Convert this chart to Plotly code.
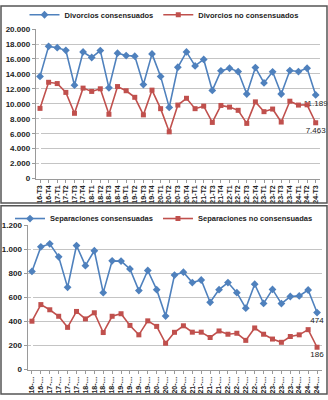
import plotly.graph_objects as go

categories = ["16-T3", "16-T4",
              "17-T1", "17-T2", "17-T3", "17-T4",
              "18-T1", "18-T2", "18-T3", "18-T4",
              "19-T1", "19-T2", "19-T3", "19-T4",
              "20-T1", "20-T2", "20-T3", "20-T4",
              "21-T1", "21-T2", "21-T3", "21-T4",
              "22-T1", "22-T2", "22-T3", "22-T4",
              "23-T1", "23-T2", "23-T3", "23-T4",
              "24-T1", "24-T2", "24-T3"]
short_labels = [c[:3] + "…" for c in categories]

div_cons = [13670, 17690, 17510, 17160, 12490, 16940, 16200, 17120, 12140, 16770,
            16460, 16380, 12580, 16680, 13670, 9520, 14890, 16940, 15070, 15940,
            11790, 14410, 14760, 14320, 11310, 14850, 12800, 14280, 11310, 14450,
            14320, 14760, 11189]
div_nocons = [9390, 12880, 12710, 11530, 8730, 12100, 11660, 12010, 8600, 12310,
              11750, 10870, 8520, 11830, 9350, 6250, 9830, 10740, 9350, 9690,
              7510, 9780, 9560, 9130, 7380, 10260, 8950, 9300, 7560, 10350,
              9830, 9870, 7463]
sep_cons = [815, 1019, 1044, 936, 683, 1030, 863, 987, 639, 903,
            901, 836, 656, 823, 664, 445, 785, 809, 723, 744,
            559, 664, 723, 639, 510, 709, 550, 666, 548, 607,
            612, 661, 474]
sep_nocons = [402, 540, 497, 443, 351, 483, 421, 472, 308, 443,
              464, 367, 289, 405, 359, 219, 310, 364, 311, 311,
              267, 321, 294, 302, 243, 346, 294, 254, 227, 275,
              289, 332, 186]

BLUE = "#4F81BD"
RED = "#C0504D"
W, H = 328, 400
FONT = "Liberation Sans"


def last_label(vals):
    return [""] * (len(vals) - 1) + [f"{vals[-1]:,}".replace(",", ".")]


fig = go.Figure()

def add(vals, name, color, symbol, xa, ya, legend, msize):
    fig.add_trace(go.Scatter(
        x=list(range(len(categories))), y=vals, name=name, mode="lines+markers+text",
        line=dict(color=color, width=1.6),
        marker=dict(color=color, symbol=symbol, size=msize),
        text=last_label(vals), textposition="bottom center",
        textfont=dict(family=FONT, size=8, color="#222"),
        xaxis=xa, yaxis=ya, legend=legend, cliponaxis=False))

add(div_cons, "Divorcios consensuados", BLUE, "diamond", "x", "y", "legend", 6)
add(div_nocons, "Divorcios no consensuados", RED, "square", "x", "y", "legend", 5)
add(sep_cons, "Separaciones consensuadas", BLUE, "diamond", "x2", "y2", "legend2", 6)
add(sep_nocons, "Separaciones no consensuadas", RED, "square", "x2", "y2", "legend2", 5)

tickfont_y = dict(family=FONT, size=8, color="#222", weight="bold")
tickfont_x = dict(family=FONT, size=7, color="#222", weight="bold")
common_x = dict(range=[-0.5, len(categories) - 0.5], showgrid=False,
                showline=True, linecolor="#9a9a9a", linewidth=1,
                ticks="outside", ticklen=3, tickcolor="#9a9a9a",
                tickson="boundaries", tickangle=-90, tickfont=tickfont_x,
                tickmode="array", tickvals=list(range(len(categories))))
common_y = dict(showgrid=True, gridcolor="#c4c4c4", gridwidth=1.2,
                showline=True, linecolor="#9a9a9a", linewidth=1,
                ticks="outside", ticklen=3, tickcolor="#9a9a9a",
                tickfont=tickfont_y, tickformat=",d", zeroline=False)

fig.update_layout(
    width=W, height=H, margin=dict(l=0, r=0, t=0, b=0),
    paper_bgcolor="white", plot_bgcolor="white",
    separators=",.",
    showlegend=True,
    xaxis=dict(common_x, domain=[35.7 / W, 320 / W], anchor="y",
               ticktext=categories),
    yaxis=dict(common_y, domain=[1 - 178 / H, 1 - 24.7 / H], anchor="x",
               range=[0, 20000], dtick=2000),
    xaxis2=dict(common_x, domain=[27.5 / W, 321.5 / W], anchor="y2",
                ticktext=short_labels),
    yaxis2=dict(common_y, domain=[1 - 374 / H, 1 - 225.7 / H], anchor="x2",
                range=[0, 1200], dtick=200),
    legend=dict(orientation="h", x=0.5, xanchor="center", y=1 - 10 / H,
                yanchor="middle", font=dict(family=FONT, size=7.5, color="#222",
                                            weight="bold"),
                bgcolor="rgba(0,0,0,0)", itemwidth=30, tracegroupgap=0),
    legend2=dict(orientation="h", x=0.5, xanchor="center", y=1 - 219 / H,
                 yanchor="middle", font=dict(family=FONT, size=7.5, color="#222",
                                             weight="bold"),
                 bgcolor="rgba(0,0,0,0)", itemwidth=30),
    shapes=[
        dict(type="rect", xref="paper", yref="paper", x0=1 / W, x1=1 - 1 / W,
             y0=1 - 203 / H, y1=1 - 1 / H, line=dict(color="#555", width=1.5)),
        dict(type="rect", xref="paper", yref="paper", x0=1 / W, x1=1 - 1 / W,
             y0=1 / H, y1=1 - 206 / H, line=dict(color="#555", width=1.5)),
    ],
)

fig.write_html("out.html")
